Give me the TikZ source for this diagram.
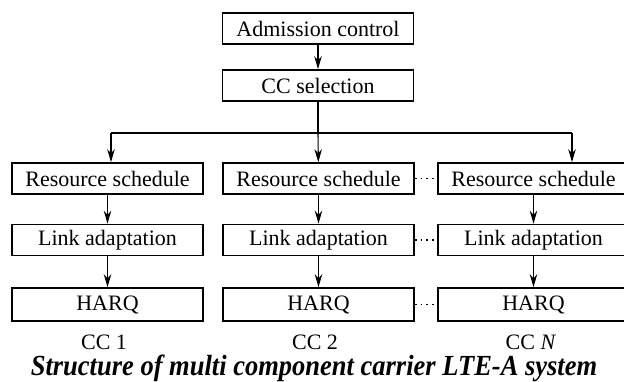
\documentclass[tikz,border=0pt]{standalone}
\usepackage{fontspec}
\setmainfont{Liberation Serif}
\usetikzlibrary{arrows.meta,positioning}

\begin{document}
\begin{tikzpicture}[x=1pt, y=1pt]

% Fix the frame of the whole figure
\useasboundingbox (0,0) rectangle (624,381);

% Define styles for blocks, arrows and dots
\tikzstyle{block} = [draw, line width=1.7pt, minimum width=191pt, minimum height=31pt, inner sep=0pt, font=\fontsize{22}{25}\selectfont]
\tikzstyle{flow} = [line width=1.1pt, -{Stealth[length=13pt,width=7.5pt]}]
\tikzstyle{gap} = [line width=1.8pt, dash pattern=on 1.8pt off 4pt]
\tikzstyle{cclabel} = [anchor=base, font=\fontsize{22}{25}\selectfont]

% Common control blocks
\node[block] (adm) at (318,352.5) {Admission control};
\node[block] (sel) at (318,295.5) {CC selection};

% One column of blocks per component carrier
\node[block] (rs1) at (107.5,202.5) {Resource schedule};
\node[block] (la1) at (107.5,141) {Link adaptation};
\node[block, minimum height=33pt] (hq1) at (107.5,76.5) {HARQ};

\node[block] (rs2) at (318.5,202.5) {Resource schedule};
\node[block] (la2) at (318.5,141) {Link adaptation};
\node[block, minimum height=33pt] (hq2) at (318.5,76.5) {HARQ};

\node[block] (rs3) at (533.5,202.5) {Resource schedule};
\node[block] (la3) at (533.5,141) {Link adaptation};
\node[block, minimum height=33pt] (hq3) at (533.5,76.5) {HARQ};

% Carrier names
\node[cclabel] (cc1) at (104,32) {CC 1};
\node[cclabel] (cc2) at (315,32) {CC 2};
\node[cclabel] (ccn) at (531,32) {CC \textit{N}};

% Split of the flow to the carriers
\coordinate (split) at (318,248);
\coordinate (in1) at (111,248);
\coordinate (in3) at (572,248);

\draw[flow] (adm) -- (sel);
\draw[line width=1.1pt] (sel) -- (split);
\draw[line width=1.1pt] (in1) -- (in3);
\draw[flow] (in1) -- (in1 |- rs1.north);
\draw[flow] (split) -- (rs2);
\draw[flow] (in3) -- (in3 |- rs3.north);

\draw[flow] (rs1) -- (la1);
\draw[flow] (la1) -- (hq1);
\draw[flow] (rs2) -- (la2);
\draw[flow] (la2) -- (hq2);
\draw[flow] (rs3) -- (la3);
\draw[flow] (la3) -- (hq3);

% Dots for the carriers left out
\draw[gap] (rs2.east) -- (rs3.west);
\draw[gap] (la2.east) -- (la3.west);
\draw[gap] (hq2.east) -- (hq3.west);

% Caption
\node[anchor=base, font=\fontsize{26.5}{30}\selectfont\bfseries\itshape] (title) at (314,6) {\scalebox{1}[1.1]{Structure of multi component carrier LTE-A system}};

\end{tikzpicture}
\end{document}
